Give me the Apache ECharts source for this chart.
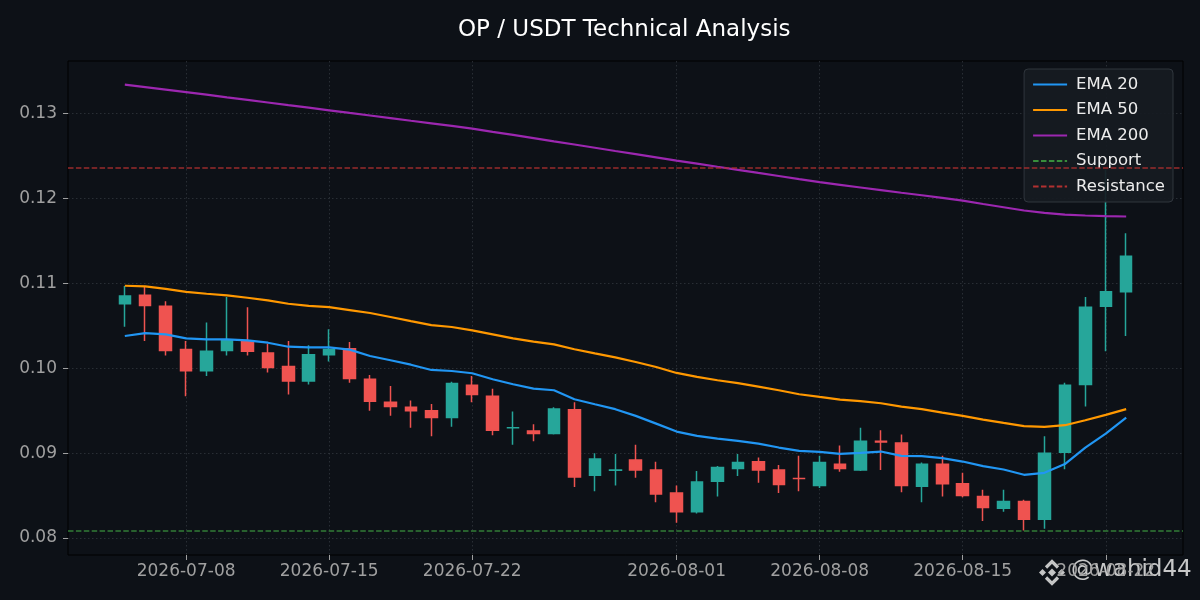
<!DOCTYPE html>
<html>
<head>
<meta charset="utf-8">
<script src="https://cdn.jsdelivr.net/npm/echarts@6/dist/echarts.min.js"></script>
<style>
html,body{margin:0;padding:0;background:#0d1117;}
#chart{width:1200px;height:600px;}
</style>
</head>
<body>
<div id="chart"></div>
<script>
const dates = ['2026-07-05','2026-07-06','2026-07-07','2026-07-08','2026-07-09','2026-07-10','2026-07-11','2026-07-12','2026-07-13','2026-07-14',
'2026-07-15','2026-07-16','2026-07-17','2026-07-18','2026-07-19','2026-07-20','2026-07-21','2026-07-22','2026-07-23','2026-07-24',
'2026-07-25','2026-07-26','2026-07-27','2026-07-28','2026-07-29','2026-07-30','2026-07-31','2026-08-01','2026-08-02','2026-08-03',
'2026-08-04','2026-08-05','2026-08-06','2026-08-07','2026-08-08','2026-08-09','2026-08-10','2026-08-11','2026-08-12','2026-08-13',
'2026-08-14','2026-08-15','2026-08-16','2026-08-17','2026-08-18','2026-08-19','2026-08-20','2026-08-21','2026-08-22','2026-08-23'];

const opens = [0.1076,0.1086,0.1073,0.1022,0.0997,0.1021,0.1032,0.1018,0.1002,0.0985,
0.1016,0.1023,0.0987,0.0960,0.0954,0.0950,0.0942,0.0980,0.0967,0.09299,
0.0926,0.0923,0.0951,0.0874,0.08799,0.0892,0.0880,0.0853,0.0831,0.0867,
0.0882,0.0890,0.0880,0.08701,0.0862,0.0887,0.0880,0.0914,0.0912,0.0861,
0.0887,0.0864,0.0849,0.0835,0.0843,0.0822,0.0901,0.0981,0.1073,0.1090];
const closes = [0.1085,0.1074,0.1021,0.0997,0.1020,0.1033,0.1020,0.1001,0.0985,0.1016,
0.1022,0.0988,0.0961,0.0955,0.0950,0.0942,0.0982,0.0969,0.0927,0.0930,
0.0923,0.0952,0.0872,0.0893,0.0880,0.0880,0.0852,0.0831,0.0866,0.0883,
0.0889,0.0880,0.0863,0.0870,0.0889,0.0882,0.0914,0.0913,0.0862,0.0887,
0.0864,0.0850,0.0836,0.0843,0.0822,0.0900,0.0980,0.1072,0.1090,0.1132];
const lows = [0.1049,0.1032,0.1015,0.0967,0.0991,0.1015,0.1015,0.0995,0.0969,0.0981,
0.1008,0.0983,0.0950,0.0944,0.0930,0.0920,0.0931,0.0960,0.0921,0.0910,
0.0914,0.0922,0.0860,0.0855,0.0862,0.0871,0.0842,0.0818,0.0829,0.0849,
0.0873,0.0865,0.0853,0.0855,0.0859,0.0878,0.0879,0.0880,0.0854,0.0842,
0.0849,0.0848,0.0820,0.0831,0.0809,0.0811,0.0881,0.0955,0.1020,0.1038];
const highs = [0.1097,0.1096,0.1079,0.1032,0.1054,0.1084,0.1072,0.1029,0.1032,0.1027,
0.1046,0.1031,0.0992,0.0979,0.0962,0.0958,0.0984,0.0991,0.0976,0.0949,
0.0934,0.0954,0.0960,0.0900,0.0899,0.0910,0.0890,0.0862,0.0879,0.0885,
0.0899,0.0895,0.0886,0.0897,0.0897,0.0909,0.0930,0.0927,0.0922,0.0889,
0.0897,0.0877,0.0857,0.0857,0.0845,0.0920,0.0983,0.1084,0.1234,0.1159];

const ema20 = [0.10380,0.10415,0.10400,0.10353,0.10341,0.10341,0.10329,0.10301,0.10254,0.10247,
0.10247,0.10219,0.10145,0.10094,0.10042,0.09980,0.09968,0.09941,0.09871,0.09812,
0.09760,0.09741,0.09635,0.09576,0.09518,0.09439,0.09348,0.09254,0.09204,0.09172,
0.09145,0.09113,0.09066,0.09027,0.09015,0.08992,0.09004,0.09019,0.08968,0.08964,
0.08941,0.08901,0.08847,0.08807,0.08745,0.08768,0.08871,0.09066,0.09231,0.09419];
const ema50 = [0.10972,0.10965,0.10936,0.10901,0.10878,0.10859,0.10831,0.10800,0.10760,0.10736,
0.10721,0.10686,0.10651,0.10604,0.10556,0.10509,0.10486,0.10447,0.10400,0.10353,
0.10313,0.10282,0.10224,0.10176,0.10129,0.10074,0.10015,0.09945,0.09898,0.09859,
0.09824,0.09784,0.09741,0.09694,0.09662,0.09631,0.09612,0.09588,0.09548,0.09518,
0.09478,0.09439,0.09395,0.09356,0.09318,0.09309,0.09329,0.09388,0.09451,0.09518];
const ema200 = [0.13341,0.13312,0.13283,0.13254,0.13223,0.13192,0.13162,0.13131,0.13100,0.13070,
0.13039,0.13008,0.12978,0.12947,0.12916,0.12886,0.12855,0.12824,0.12786,0.12749,
0.12711,0.12673,0.12636,0.12598,0.12560,0.12523,0.12485,0.12447,0.12411,0.12374,
0.12338,0.12301,0.12265,0.12228,0.12192,0.12161,0.12130,0.12099,0.12068,0.12038,
0.12007,0.11976,0.11935,0.11897,0.11859,0.11831,0.11811,0.11800,0.11792,0.11788];

const supportLevel = 0.0808;
const resistanceLevel = 0.1236;

const xTickLabels = ['2026-07-08','2026-07-15','2026-07-22','2026-08-01','2026-08-08','2026-08-15','2026-08-22'];
const yTickLabels = [0.08,0.09,0.10,0.11,0.12,0.13];

const DAY = 86400000;
const ts = s => Date.UTC(+s.slice(0,4), +s.slice(5,7)-1, +s.slice(8,10));
const fmt = v => { const d = new Date(Math.round(v/DAY)*DAY); return d.getUTCFullYear()+'-'+String(d.getUTCMonth()+1).padStart(2,'0')+'-'+String(d.getUTCDate()).padStart(2,'0'); };
const candleData = dates.map((d,i)=>[ts(d), opens[i], closes[i], lows[i], highs[i]]);
const pair = arr => dates.map((d,i)=>[ts(d), arr[i]]);

const FONT = 'DejaVu Sans';
const chart = echarts.init(document.getElementById('chart'), null, {renderer:'canvas'});

const gridLine = {show:true, lineStyle:{color:'#3a3f47', type:[1.5,2.5], width:0.8, opacity:0.8}};
const logoFill = 'rgba(222,222,222,0.88)';

chart.setOption({
  backgroundColor:'#0d1117',
  animation:false,
  title:{
    text:'OP / USDT Technical Analysis',
    left:453, top:14,
    textStyle:{color:'#ffffff', fontSize:23, fontWeight:'normal', fontFamily:FONT}
  },
  legend:{
    orient:'vertical',
    right:27, top:69,
    itemWidth:34, itemHeight:14,
    itemGap:6.5,
    padding:[6,8,6,8],
    backgroundColor:'rgba(22,27,34,0.92)',
    borderColor:'#30363d', borderWidth:1, borderRadius:4,
    itemStyle:{opacity:0},
    textStyle:{color:'#ececec', fontSize:16.5, fontFamily:FONT, lineHeight:19, padding:[0,0,0,4]},
    data:['EMA 20','EMA 50','EMA 200','Support','Resistance']
  },
  grid:{left:68, right:17, top:61, bottom:45, show:true, borderColor:'#000000', borderWidth:1, backgroundColor:'#0d1117'},
  xAxis:{
    type:'value',
    min: ts('2026-07-08') - 5.78*DAY,
    max: ts('2026-07-08') + 48.78*DAY,
    scale:true,
    axisLine:{show:false},
    axisTick:{show:true, length:5, lineStyle:{color:'#a0a0a0'}, customValues: xTickLabels.map(ts)},
    axisLabel:{color:'#a0a0a0', fontSize:17, fontFamily:FONT, margin:8, customValues: xTickLabels.map(ts),
      formatter: v => fmt(v)},
    splitLine:gridLine
  },
  yAxis:{
    type:'value',
    min:0.078, max:0.1362,
    axisLine:{show:false},
    axisTick:{show:true, length:5, lineStyle:{color:'#a0a0a0'}, customValues:yTickLabels},
    axisLabel:{color:'#a0a0a0', fontSize:17, fontFamily:FONT, margin:11, customValues:yTickLabels,
      formatter: v => v.toFixed(2)},
    splitLine:gridLine
  },
  series:[
    {
      name:'OP/USDT', type:'candlestick', data:candleData, barWidth:12,
      itemStyle:{color:'#26a69a', color0:'#ef5350', borderColor:'#26a69a', borderColor0:'#ef5350', borderWidth:1.5}
    },
    {name:'EMA 20', type:'line', data:pair(ema20), symbol:'none', lineStyle:{color:'#2196f3', width:2.2}, itemStyle:{color:'#2196f3'}, z:3},
    {name:'EMA 50', type:'line', data:pair(ema50), symbol:'none', lineStyle:{color:'#ff9800', width:2.2}, itemStyle:{color:'#ff9800'}, z:3},
    {name:'EMA 200', type:'line', data:pair(ema200), symbol:'none', lineStyle:{color:'#9c27b0', width:2.2}, itemStyle:{color:'#9c27b0'}, z:3},
    {name:'Support', type:'line', data:[], symbol:'none', lineStyle:{color:'#388e3c', width:1.5, type:[5.5,2.4]}, itemStyle:{color:'#388e3c'},
      markLine:{silent:true, symbol:'none', precision:5, label:{show:false}, lineStyle:{color:'#388e3c', width:1.5, type:[5.5,2.4], opacity:0.85}, data:[{yAxis:supportLevel}]}},
    {name:'Resistance', type:'line', data:[], symbol:'none', lineStyle:{color:'#b23030', width:1.5, type:[5.5,2.4]}, itemStyle:{color:'#b23030'},
      markLine:{silent:true, symbol:'none', precision:5, label:{show:false}, lineStyle:{color:'#b23030', width:1.5, type:[5.5,2.4], opacity:0.85}, data:[{yAxis:resistanceLevel}]}}
  ],
  graphic:[
    {type:'group', left:1039, top:559, children:[
      {type:'polyline', shape:{points:[[7,8],[13,2],[19,8]]}, style:{stroke:logoFill, lineWidth:3.2, fill:null}},
      {type:'polyline', shape:{points:[[7,18],[13,24],[19,18]]}, style:{stroke:logoFill, lineWidth:3.2, fill:null}},
      {type:'polygon', shape:{points:[[13,9],[17,13],[13,17],[9,13]]}, style:{fill:logoFill}},
      {type:'polygon', shape:{points:[[3.5,9.5],[7,13],[3.5,16.5],[0,13]]}, style:{fill:logoFill}},
      {type:'polygon', shape:{points:[[22.5,9.5],[26,13],[22.5,16.5],[19,13]]}, style:{fill:logoFill}}
    ]},
    {type:'text', left:1071, top:559, style:{text:'@wahid44', fill:'rgba(225,225,225,0.88)', fontSize:23, fontFamily:FONT}}
  ]
});
</script>
</body>
</html>
